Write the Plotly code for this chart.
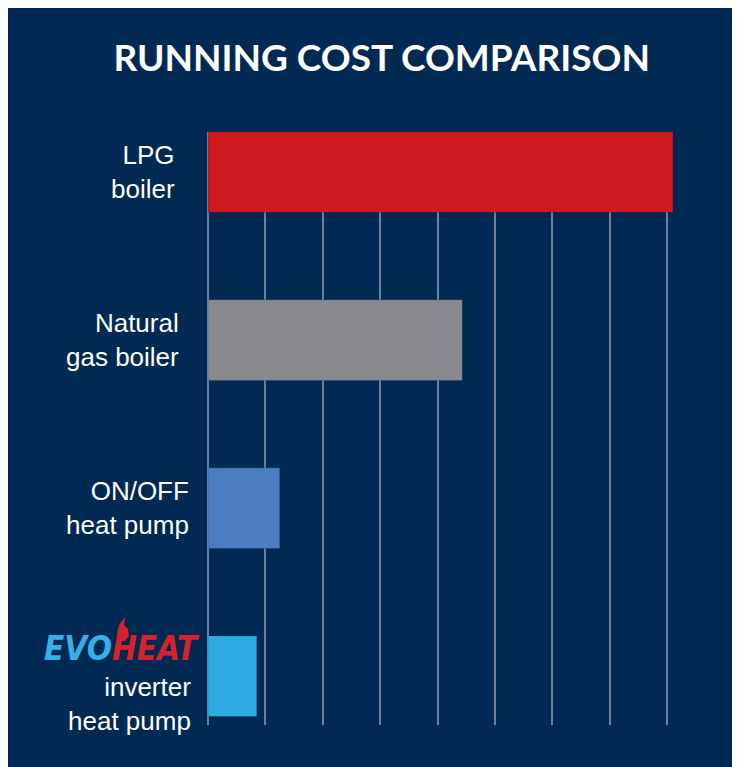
import plotly.graph_objects as go

categories = ["LPG boiler", "Natural gas boiler", "ON/OFF heat pump", "EVOHEAT inverter heat pump"]
values = [8.1, 4.43, 1.25, 0.85]
bar_colors = ["#d0191f", "#898a8d", "#4a7ec0", "#2fabe4"]
label_texts = ["LPG<br>boiler", "Natural<br>gas boiler", "ON/OFF<br>heat pump", "inverter<br>heat pump"]
title_text = "RUNNING COST COMPARISON"

W, H = 740, 767
OFF = 7  # page offset of the figure
ML, MR, MT, MB = 200, 52, 124, 50
NAVY = "#002a53"
GRID = "#6c8099"

def px_to_paper(px, py):
    # px, py: page pixel coordinates
    px -= OFF
    py -= OFF
    pw = W - ML - MR
    ph = H - MT - MB
    return (px - ML) / pw, 1 - (py - MT) / ph

fig = go.Figure()
fig.add_trace(go.Bar(
    x=values, y=categories, orientation="h",
    marker=dict(color=bar_colors, line=dict(color="rgba(0,0,0,0.18)", width=1)),
    width=0.48, hoverinfo="skip",
))

shapes = []
# flame of the logo
pts = [(121, 640), (116, 632), (118, 624), (124, 616), (123, 624), (127, 628), (128, 635), (124, 640)]
pp = [px_to_paper(a, b) for a, b in pts]
path = "M " + " L ".join(f"{a},{b}" for a, b in pp) + " Z"
shapes.append(dict(type="path", xref="paper", yref="paper", path=path,
                   fillcolor="#d7222b", line=dict(width=0)))

annotations = []
xshifts = [-31, -27, -17, -15]
yshifts = [0, 0, 0, -28]
for cat, txt, xs, ys in zip(categories, label_texts, xshifts, yshifts):
    annotations.append(dict(x=0, y=cat, xref="x", yref="y", text=txt, showarrow=False,
                            xanchor="right", yanchor="middle", align="right",
                            xshift=xs, yshift=ys,
                            font=dict(family="Liberation Sans, Arial", size=26, color="white")))
annotations.append(dict(x=0, y=categories[3], xref="x", yref="y",
                        text="<b><i><span style='color:#36aee6'>EVO</span><span style='color:#d7222b'>HEAT</span></i></b>",
                        showarrow=False, xanchor="right", yanchor="middle",
                        xshift=-6, yshift=28,
                        font=dict(family="Liberation Sans Narrow, DejaVu Sans Condensed", size=33)))

fig.update_layout(
    width=W, height=H,
    margin=dict(l=ML, r=MR, t=MT, b=MB, pad=0),
    paper_bgcolor=NAVY, plot_bgcolor=NAVY,
    showlegend=False,
    title=dict(text="<b>" + title_text + "</b>", xref="container", yref="container",
               x=0.505, y=1 - 50 / H, xanchor="center", yanchor="middle",
               font=dict(family="Lato", size=37, color="white")),
    xaxis=dict(range=[0, 8.5], dtick=1, showticklabels=False, showgrid=True,
               gridcolor=GRID, gridwidth=2, zeroline=True, zerolinecolor=GRID,
               zerolinewidth=2, showline=False, ticks=""),
    yaxis=dict(categoryorder="array", categoryarray=categories,
               range=[3.29, -0.238], showticklabels=False, showgrid=False,
               zeroline=False, showline=False, ticks=""),
    shapes=shapes, annotations=annotations,
)

fig.write_html("out.html")
